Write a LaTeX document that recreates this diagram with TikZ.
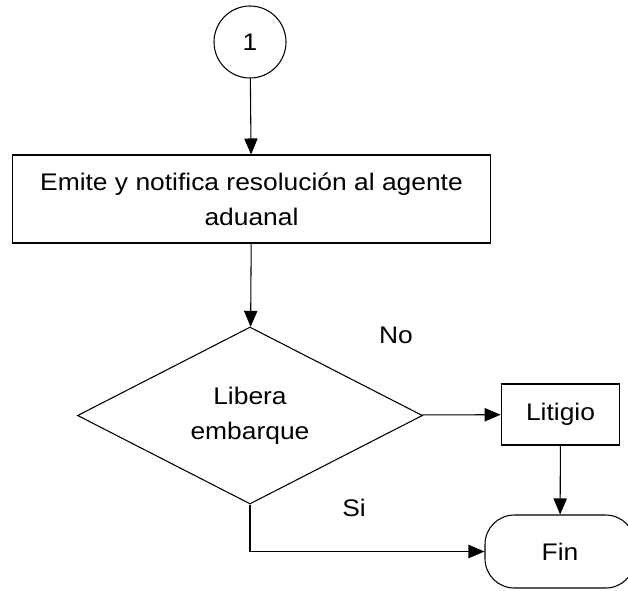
\documentclass[tikz,border=0pt]{standalone}
\usepackage{fontspec}
\setmainfont[FakeStretch=1.1]{Liberation Sans}
\usepackage{tikz}
\usetikzlibrary{arrows.meta,shapes}
\tikzstyle{conn}=[draw, circle, line width=0.8pt, minimum size=54pt, inner sep=0pt]
\tikzstyle{proc}=[draw, rectangle, line width=0.8pt, align=center, inner sep=0pt]
\tikzstyle{decision}=[draw, diamond, line width=0.8pt, align=center, inner sep=0pt]
\tikzstyle{term}=[draw, rectangle, rounded corners=22pt, line width=0.8pt, inner sep=0pt]
\tikzstyle{edge} = [draw,line width=0.8pt,-{Triangle[length=12pt,width=10pt]}]
\tikzstyle{note} = [draw=none, opacity=1, align=center]

\begin{document}
\begin{tikzpicture}[x=0.75pt, y=-0.75pt, every node/.style={font=\fontsize{18}{26}\selectfont}]
		\useasboundingbox (0,0) rectangle (628,590);
		% First we draw the nodes
		\node[conn] (uno) at (250,42){1};
		\node[proc, minimum width=359pt, minimum height=66pt] (emite) at (251.5,199){Emite y notifica resolución al agente\\aduanal};
		\node[decision, minimum width=258.75pt, minimum height=132.75pt] (libera) at (250,415.5){Libera\\embarque};
		\node[proc, minimum width=89pt, minimum height=45.75pt] (litigio) at (560.5,414.5){Litigio};
		\node[term, minimum width=112.5pt, minimum height=54.75pt] (fin) at (560,551.5){Fin};
		
		\node[note] (no) at (396,335){No};
		\node[note] (si) at (354,508){Si};
		
		% Connect nodes with edges
		\foreach \source/ \dest in {
			uno/emite, emite/libera, libera/litigio, litigio/fin}
		\path[edge] (\source) -- (\dest);
		\path[edge] (libera.south) |- (fin.west);
		\end{tikzpicture}
\end{document}
